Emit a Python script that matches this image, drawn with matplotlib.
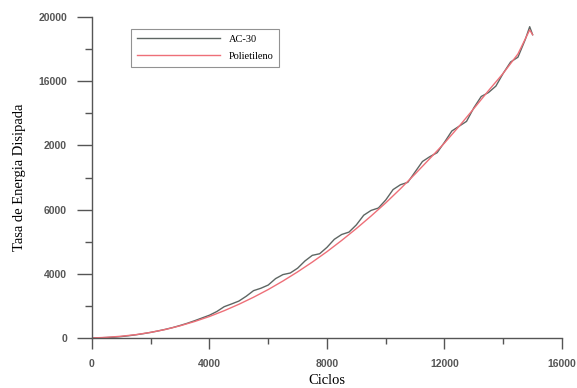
import matplotlib
matplotlib.use('Agg')
import matplotlib.pyplot as plt
from matplotlib.ticker import MultipleLocator

# Data
ciclos_pe = [0, 500, 1000, 1500, 2000, 2500, 3000, 3500, 4000, 4500, 5000,
             5500, 6000, 6500, 7000, 7500, 8000, 8500, 9000, 9500, 10000,
             10500, 11000, 11500, 12000, 12500, 13000, 13500, 14000, 14500,
             14900, 15000]
energia_pe = [0, 40, 110, 210, 350, 530, 760, 1030, 1340, 1700, 2100,
              2540, 3020, 3550, 4120, 4730, 5380, 6080, 6820, 7600, 8420,
              9300, 10220, 11180, 12150, 13200, 14300, 15420, 16500, 17700,
              19200, 18900]

ciclos_ac = [0, 250, 500, 750, 1000, 1250, 1500, 1750, 2000, 2250, 2500,
             2750, 3000, 3250, 3500, 3750, 4000, 4250, 4500, 4750, 5000,
             5250, 5500, 5750, 6000, 6250, 6500, 6750, 7000, 7250, 7500,
             7750, 8000, 8250, 8500, 8750, 9000, 9250, 9500, 9750, 10000,
             10250, 10500, 10750, 11000, 11250, 11500, 11750, 12000, 12250,
             12500, 12750, 13000, 13250, 13500, 13750, 14000, 14250, 14500,
             14750, 14900, 15000]
energia_ac = [0, 10, 30, 50, 90, 140, 200, 270, 350, 440, 540,
              650, 780, 920, 1080, 1250, 1420, 1650, 1950, 2120, 2300,
              2600, 2950, 3100, 3300, 3700, 3950, 4050, 4350, 4800, 5150,
              5250, 5650, 6150, 6450, 6600, 7050, 7650, 7950, 8100, 8600,
              9250, 9550, 9700, 10350, 11000, 11300, 11550, 12200, 12900,
              13200, 13500, 14350, 15050, 15300, 15700, 16500, 17200, 17500,
              18600, 19400, 18900]

y_ticks = [0, 4000, 8000, 12000, 16000, 20000]
y_tick_labels = ['0', '4000', '6000', '2000', '16000', '20000']
x_ticks = [0, 4000, 8000, 12000, 16000]
x_tick_labels = ['0', '4000', '8000', '12000', '16000']

fig = plt.figure(figsize=(5.77, 3.88), dpi=100)
ax = fig.add_axes([0.1594, 0.1289, 0.8146, 0.8271])

ax.plot(ciclos_ac, energia_ac, color='#5e6663', lw=1.0, label='AC-30')
ax.plot(ciclos_pe, energia_pe, color='#ee6f78', lw=1.0, label='Polietileno')

ax.set_xlim(0, 16000)
ax.set_ylim(0, 20000)
ax.set_xticks(x_ticks)
ax.set_xticklabels(x_tick_labels)
ax.set_yticks(y_ticks)
ax.set_yticklabels(y_tick_labels)
ax.xaxis.set_minor_locator(MultipleLocator(2000))
ax.yaxis.set_minor_locator(MultipleLocator(2000))

for s in ['top', 'right']:
    ax.spines[s].set_visible(False)
for s in ['left', 'bottom']:
    ax.spines[s].set_color('#555555')
    ax.spines[s].set_linewidth(1.0)
    ax.spines[s].set_clip_on(False)

ax.tick_params(axis='y', which='major', length=11, width=1, color='#555555', pad=7)
ax.tick_params(axis='y', which='minor', length=5, width=1, color='#555555')
ax.tick_params(axis='x', which='major', length=8, width=1, color='#555555', pad=7)
ax.tick_params(axis='x', which='minor', length=4, width=1, color='#555555')
for lab in ax.get_xticklabels() + ax.get_yticklabels():
    lab.set_fontfamily('Liberation Sans')
    lab.set_fontweight('bold')
    lab.set_fontsize(7.5)
    lab.set_color('#555555')

ax.set_xlabel('Ciclos', family='Liberation Serif', fontsize=10.5, labelpad=4)
ax.set_ylabel('Tasa de Energia Disipada', family='Liberation Serif', fontsize=10.5, labelpad=9)

leg = ax.legend(loc='upper left', bbox_to_anchor=(0.072, 0.98), frameon=True,
                fancybox=False, edgecolor='#777777', prop={'family': 'Liberation Serif', 'size': 7.5},
                handlelength=8.0, handletextpad=0.8, borderpad=0.55, labelspacing=0.75)
leg.get_frame().set_linewidth(0.8)

fig.savefig('out.png', dpi=100)
